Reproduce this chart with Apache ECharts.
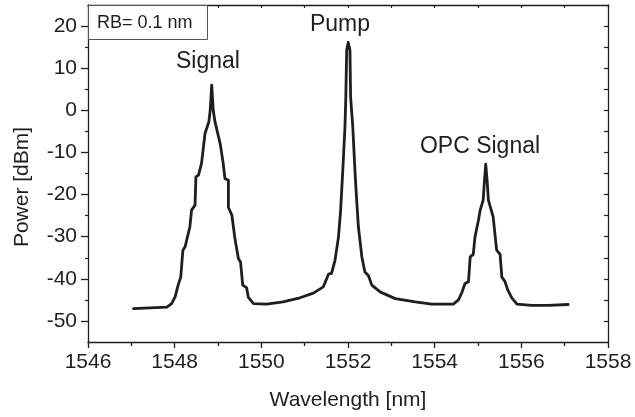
<!DOCTYPE html>
<html>
<head>
<meta charset="utf-8">
<script src="https://cdn.jsdelivr.net/npm/echarts@6/dist/echarts.min.js"></script>
<style>
html,body{margin:0;padding:0;background:#fff;}
#chart{width:635px;height:417px;}
</style>
</head>
<body>
<div id="chart"></div>
<script>
// Spectrum trace
var wavelength = [1547.05,1547.82,1547.93,1548.01,1548.08,1548.14,1548.19,1548.24,1548.35,1548.39,1548.47,1548.49,1548.55,1548.62,1548.70,1548.79,1548.82,1548.855,1548.89,1548.93,1549.05,1549.12,1549.16,1549.24,1549.24,1549.32,1549.39,1549.47,1549.52,1549.57,1549.66,1549.70,1549.82,1550.12,1550.50,1550.89,1551.20,1551.43,1551.55,1551.62,1551.70,1551.78,1551.83,1551.88,1551.93,1551.95,1551.97,1552.005,1552.045,1552.06,1552.11,1552.16,1552.19,1552.24,1552.32,1552.39,1552.47,1552.55,1552.74,1553.09,1553.55,1553.93,1554.43,1554.55,1554.63,1554.70,1554.78,1554.82,1554.89,1554.93,1555.01,1555.05,1555.12,1555.15,1555.178,1555.21,1555.24,1555.35,1555.43,1555.51,1555.55,1555.62,1555.69,1555.78,1555.90,1556.24,1556.62,1557.08];
var power = [-47.1,-46.7,-45.9,-44.3,-41.5,-39.6,-33.2,-32.4,-27.7,-23.7,-22.5,-15.8,-15.4,-12.6,-5.5,-2.7,0.0,6.0,0.0,-2.7,-7.9,-12.6,-16.2,-16.6,-23.0,-24.9,-30.4,-35.2,-36.0,-41.5,-42.1,-44.4,-45.9,-46.0,-45.5,-44.5,-43.4,-41.9,-38.9,-38.7,-35.6,-30.1,-23.7,-14.2,-3.9,3.2,14.3,16.1,14.3,3.2,-3.9,-14.2,-19.7,-27.7,-34.8,-38.4,-39.2,-41.5,-43.1,-44.7,-45.5,-46.0,-46.0,-45.0,-43.2,-41.1,-40.7,-34.8,-34.2,-30.1,-26.1,-23.7,-21.3,-16.6,-12.8,-16.6,-21.3,-25.3,-33.2,-34.2,-39.6,-40.6,-42.7,-44.5,-46.0,-46.3,-46.3,-46.1];

var xTickLabels = [1546,1548,1550,1552,1554,1556,1558];
var yTickLabels = [-50,-40,-30,-20,-10,0,10,20];
var yMinorTicks = [-45,-35,-25,-15,-5,5,15];
var yRightTicks = [-50,-45,-40,-35,-30,-25,-20,-15,-10,-5,0,5,10,15,20];

var xTitle = 'Wavelength [nm]';
var yTitle = 'Power [dBm]';
var boxText = 'RB= 0.1 nm';
var peakNames = ['Signal','Pump','OPC Signal'];

var FONT = '"Liberation Sans", Arial, sans-serif';
var INK = '#1e1e1e';

var chart = echarts.init(document.getElementById('chart'), null, {renderer:'canvas'});

var seriesData = wavelength.map(function(w,i){ return [w, power[i]]; });
var plain = function(v){ return String(v); };

var option = {
  backgroundColor: '#ffffff',
  animation: false,
  grid: {left: 88, right: 27, top: 5, bottom: 75, containLabel: false},
  xAxis: [
    {
      type: 'value', position: 'bottom', min: 1546, max: 1558, interval: 2,
      axisLine: {show: true, onZero: false, lineStyle: {color: INK, width: 1.3}},
      axisTick: {show: true, inside: false, length: 6, lineStyle: {color: INK, width: 1.3}},
      minorTick: {show: true, splitNumber: 2, length: 4, lineStyle: {color: INK, width: 1.3}},
      axisLabel: {show: true, fontFamily: FONT, fontSize: 21, color: INK, margin: 10,
                  customValues: xTickLabels, formatter: plain},
      splitLine: {show: false}
    },
    {
      type: 'value', position: 'top', min: 1546, max: 1558, interval: 1,
      axisLine: {show: true, onZero: false, lineStyle: {color: INK, width: 1.3}},
      axisTick: {show: true, inside: true, length: 3, lineStyle: {color: INK, width: 1.2}},
      axisLabel: {show: false},
      splitLine: {show: false}
    }
  ],
  yAxis: [
    {
      type: 'value', position: 'left', min: -55, max: 25,
      axisLine: {show: true, onZero: false, lineStyle: {color: INK, width: 1.3}},
      axisTick: {show: true, inside: false, length: 7, customValues: yTickLabels,
                 lineStyle: {color: INK, width: 1.3}},
      axisLabel: {show: true, fontFamily: FONT, fontSize: 21, color: INK, margin: 11,
                  customValues: yTickLabels, formatter: plain},
      splitLine: {show: false}
    },
    {
      type: 'value', position: 'left', min: -55, max: 25,
      axisLine: {show: false},
      axisTick: {show: true, inside: false, length: 3, customValues: yMinorTicks,
                 lineStyle: {color: INK, width: 1.2}},
      axisLabel: {show: false},
      splitLine: {show: false}
    },
    {
      type: 'value', position: 'right', min: -55, max: 25,
      axisLine: {show: true, onZero: false, lineStyle: {color: INK, width: 1.3}},
      axisTick: {show: true, inside: true, length: 4, customValues: yRightTicks,
                 lineStyle: {color: INK, width: 1.2}},
      axisLabel: {show: false},
      splitLine: {show: false}
    }
  ],
  series: [{
    type: 'line', xAxisIndex: 0, yAxisIndex: 0,
    data: seriesData, showSymbol: false, symbol: 'none',
    lineStyle: {color: INK, width: 2.8, join: 'round', cap: 'round'},
    z: 3
  }],
  graphic: [
    {type: 'rect', left: 88, top: 5, z: 10,
     shape: {width: 119, height: 34},
     style: {fill: '#ffffff', stroke: '#555555', lineWidth: 1}},
    {type: 'text', x: 97, y: 23, z: 11,
     style: {text: boxText, font: '18px ' + FONT, fill: INK, verticalAlign: 'middle', align: 'left'}},
    {type: 'text', x: 208, y: 62, z: 11,
     style: {text: peakNames[0], font: '23px ' + FONT, fill: INK, verticalAlign: 'middle', align: 'center'}},
    {type: 'text', x: 340, y: 24.5, z: 11,
     style: {text: peakNames[1], font: '23px ' + FONT, fill: INK, verticalAlign: 'middle', align: 'center'}},
    {type: 'text', x: 480, y: 146.5, z: 11,
     style: {text: peakNames[2], font: '23px ' + FONT, fill: INK, verticalAlign: 'middle', align: 'center'}},
    {type: 'text', x: 348, y: 400, z: 11,
     style: {text: xTitle, font: '21px ' + FONT, fill: INK, verticalAlign: 'middle', align: 'center'}},
    {type: 'text', x: 22, y: 187, rotation: Math.PI/2, z: 11,
     style: {text: yTitle, font: '21px ' + FONT, fill: INK, verticalAlign: 'middle', align: 'center'}}
  ]
};
chart.setOption(option);
</script>
</body>
</html>
